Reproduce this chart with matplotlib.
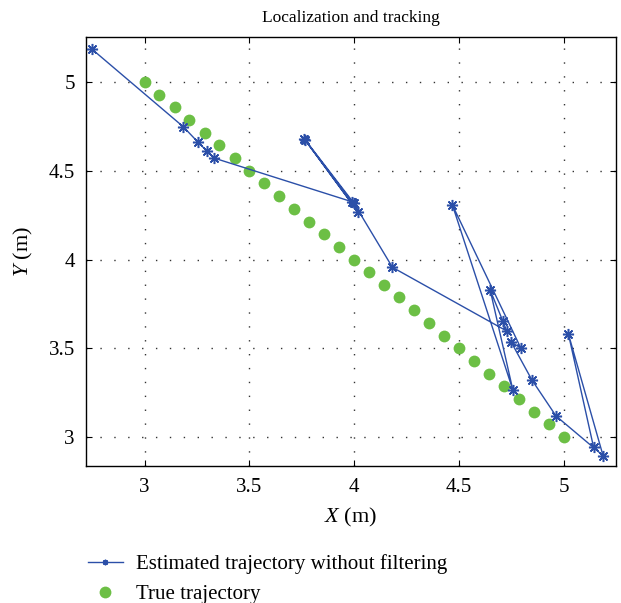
import matplotlib
matplotlib.use('Agg')
import matplotlib.pyplot as plt
from matplotlib.lines import Line2D

# true trajectory (green dots)
true_x = [3.000, 3.071, 3.143, 3.214, 3.286, 3.357, 3.429, 3.500, 3.571, 3.643,
          3.714, 3.786, 3.857, 3.929, 4.000, 4.071, 4.143, 4.214, 4.286, 4.357,
          4.429, 4.500, 4.571, 4.643, 4.714, 4.786, 4.857, 4.929, 5.000]
true_y = [5.000, 4.929, 4.857, 4.786, 4.714, 4.643, 4.571, 4.500, 4.429, 4.357,
          4.286, 4.214, 4.143, 4.071, 4.000, 3.929, 3.857, 3.786, 3.714, 3.643,
          3.571, 3.500, 3.429, 3.357, 3.286, 3.214, 3.143, 3.071, 3.000]

# estimated trajectory without filtering
est_x = [2.749, 3.185, 3.256, 3.296, 3.331, 3.988, 3.762, 4.017, 3.765, 3.998,
         4.182, 4.727, 4.708, 4.648, 4.756, 4.468, 4.794, 4.748, 4.847, 4.962,
         5.186, 5.021, 5.141]
est_y = [5.186, 4.748, 4.660, 4.613, 4.572, 4.326, 4.679, 4.269, 4.676, 4.318,
         3.956, 3.597, 3.654, 3.828, 3.265, 4.307, 3.501, 3.535, 3.321, 3.118,
         2.895, 3.580, 2.942]

x_ticks = [3, 3.5, 4, 4.5, 5]
y_ticks = [3, 3.5, 4, 4.5, 5]
tick_labels = ['3', '3.5', '4', '4.5', '5']

plt.rcParams['font.family'] = ['Liberation Serif', 'DejaVu Serif']
plt.rcParams['mathtext.fontset'] = 'custom'
plt.rcParams['mathtext.rm'] = 'Liberation Serif'
plt.rcParams['mathtext.it'] = 'Liberation Serif:italic'

blue = '#2b4fa8'
green = '#6cbf45'
star = (8, 2, 0)

fig = plt.figure(figsize=(6.21, 6.03), dpi=100)
ax = fig.add_axes([0.1385, 0.2277, 0.8535, 0.7109])

ax.plot(est_x, est_y, color=blue, lw=1.0, marker=star, ms=8, mew=1.1, zorder=3)
ax.plot(true_x, true_y, ls='none', marker='o', color=green, ms=8.5, mec='none', zorder=2)

ax.set_xlim(2.721, 5.248)
ax.set_ylim(2.838, 5.254)
ax.set_xticks(x_ticks)
ax.set_xticklabels(tick_labels)
ax.set_yticks(y_ticks)
ax.set_yticklabels(tick_labels)
ax.tick_params(direction='in', top=True, right=True, length=4, labelsize=15)
ax.tick_params(axis='x', pad=9)
ax.tick_params(axis='y', pad=8)
ax.grid(True, color='#333333', ls=(0, (1, 9)), lw=1.0)
for s in ax.spines.values():
    s.set_linewidth(1.0)

ax.set_title('Localization and tracking', fontsize=12.5, pad=11)
ax.set_xlabel('$X$ (m)', fontsize=16, labelpad=6)
ax.set_ylabel('$Y$ (m)', fontsize=16, labelpad=10)

handles = [
    Line2D([], [], color=blue, lw=1.0, marker=star, ms=4),
    Line2D([], [], ls='none', marker='o', color=green, ms=8.5, mec='none'),
]
fig.legend(handles, ['Estimated trajectory without filtering', 'True trajectory'],
           loc='upper left', bbox_to_anchor=(0.111, 0.112), frameon=False,
           fontsize=15, handlelength=1.7, handletextpad=0.6, labelspacing=0.5,
           borderpad=0.4)

fig.savefig('out.png', dpi=100)
